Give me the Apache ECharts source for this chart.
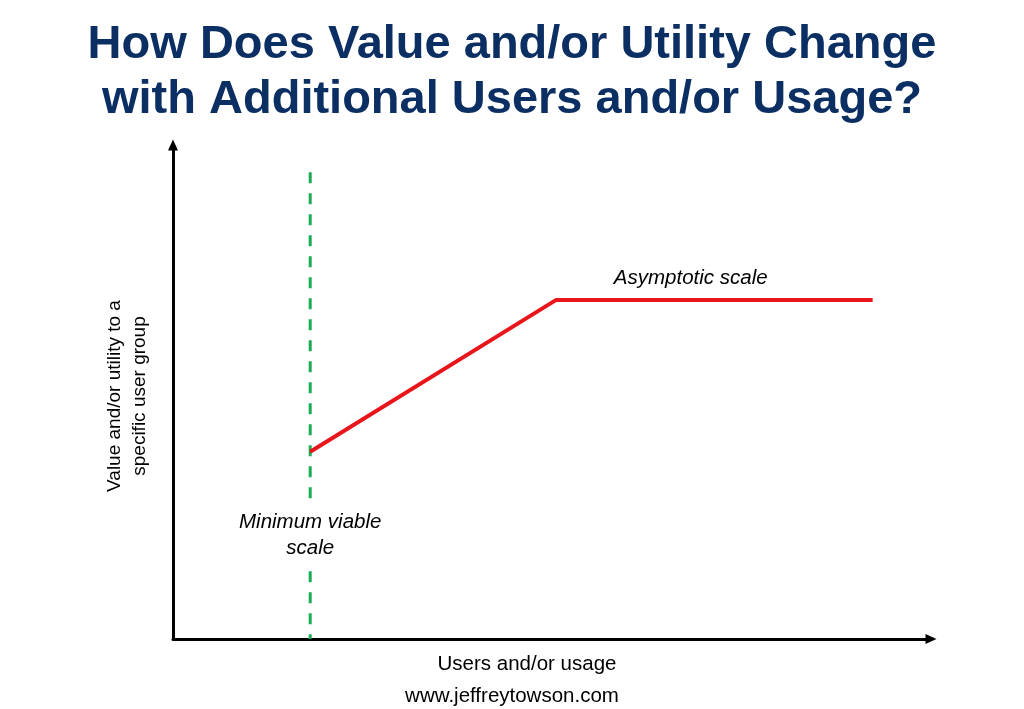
<!DOCTYPE html>
<html>
<head>
<meta charset="utf-8">
<script src="https://cdn.jsdelivr.net/npm/echarts@6/dist/echarts.min.js"></script>
<style>
html,body{margin:0;padding:0;background:#fff;}
#chart{width:1024px;height:709px;}
</style>
</head>
<body>
<div id="chart"></div>
<script>
// ---- data ----
var titleLines = ['How Does Value and/or Utility Change', 'with Additional Users and/or Usage?'];
var xAxisName = 'Users and/or usage';
var yAxisName = 'Value and/or utility to a\nspecific user group';
var footer = 'www.jeffreytowson.com';
// value curve (x = users/usage, y = value)
var curveX = [18.1, 50.5, 92.3];
var curveY = [37.9, 68.6, 68.6];
// minimum viable scale marker
var mvsX = 18.1;
var mvsY = [0, 94.5];
// annotations
var annoText = ['Asymptotic scale', 'Minimum viable\nscale'];
var annoX = [68.3, 18.1];
var annoY = [73.1, 20.9];

var FONT = 'Liberation Sans, Arial, sans-serif';
var chart = echarts.init(document.getElementById('chart'));
var curve = curveX.map(function(x, i){ return [x, curveY[i]]; });
var mvsLine = mvsY.slice().reverse().map(function(y){ return [mvsX, y]; });
var annos = annoText.map(function(t, i){ return {value:[annoX[i], annoY[i]], name:t}; });

chart.setOption({
  animation: false,
  backgroundColor: '#fff',
  title: [{
    text: titleLines.join('\n'),
    left: 'center', top: 13,
    textStyle: {fontFamily: FONT, fontWeight: 'bold', fontSize: 47, lineHeight: 55, color: '#0b2e63'}
  }, {
    text: footer,
    left: 'center', top: 681,
    textStyle: {fontFamily: FONT, fontWeight: 'normal', fontSize: 20.5, color: '#000'}
  }],
  grid: {left: 173, right: 93, top: 145, bottom: 70},
  xAxis: {
    type: 'value', min: 0, max: 100,
    name: xAxisName, nameLocation: 'middle', nameGap: 15,
    nameTextStyle: {fontFamily: FONT, fontSize: 20.5, color: '#000', padding: [0, 50, 0, 0]},
    axisLine: {lineStyle: {color: '#000', width: 3}, symbol: ['none', 'triangle'], symbolSize: [10, 11]},
    axisTick: {show: false}, axisLabel: {show: false}, splitLine: {show: false}
  },
  yAxis: {
    type: 'value', min: 0, max: 100,
    name: yAxisName, nameLocation: 'middle', nameGap: 21, nameRotate: 90,
    nameTextStyle: {fontFamily: FONT, fontSize: 19, color: '#000', lineHeight: 25, padding: [0, 8, 0, 0]},
    axisLine: {show: true, onZero: false, lineStyle: {color: '#000', width: 3}, symbol: ['none', 'triangle'], symbolSize: [10, 11]},
    axisTick: {show: false}, axisLabel: {show: false}, splitLine: {show: false}
  },
  series: [{
    type: 'line', data: mvsLine, symbol: 'none', silent: true,
    lineStyle: {color: '#1bab55', width: 3, type: [11, 10]}
  }, {
    type: 'line', data: curve, symbol: 'none', silent: true,
    lineStyle: {color: '#e8161b', width: 4}
  }, {
    type: 'scatter', data: annos, symbolSize: 0, silent: true, z: 5,
    itemStyle: {opacity: 1},
    label: {
      show: true, position: 'inside', formatter: function(p){ return p.name; },
      fontFamily: FONT, fontStyle: 'italic', fontSize: 20.5, color: '#000',
      lineHeight: 26, backgroundColor: '#fff', padding: [2, 4], opacity: 1
    }
  }]
});
</script>
</body>
</html>
